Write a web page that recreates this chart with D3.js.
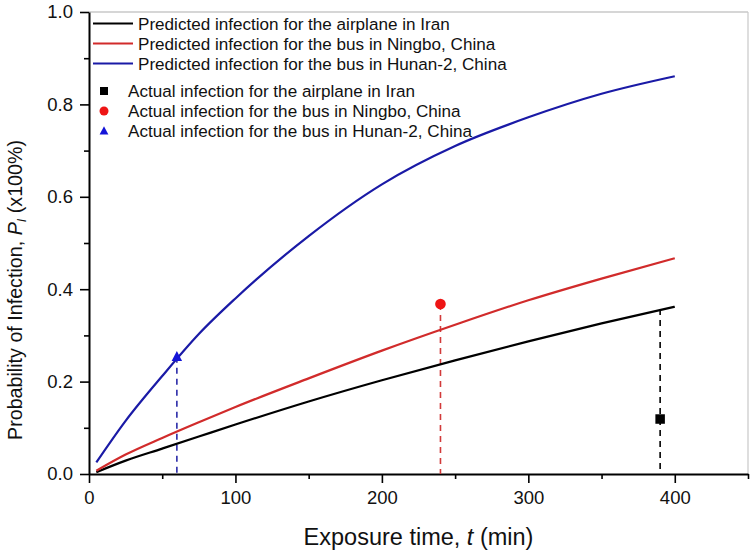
<!DOCTYPE html>
<html>
<head>
<meta charset="utf-8">
<script src="https://cdn.jsdelivr.net/npm/d3@7"></script>
<style>
  html, body { margin: 0; padding: 0; background: #fff; }
  svg { display: block; font-family: "Liberation Sans", Arial, sans-serif; }
</style>
</head>
<body>
<svg id="chart" width="750" height="554"></svg>
<script>
// ---- data ----
const exposureTime = [5, 25, 50, 75, 100, 150, 200, 250, 300, 350, 400];
const predAirplaneIran = [0.004, 0.029, 0.055, 0.081, 0.107, 0.157, 0.203, 0.246, 0.287, 0.326, 0.362];
const predBusNingbo   = [0.007, 0.042, 0.078, 0.112, 0.145, 0.207, 0.267, 0.323, 0.376, 0.423, 0.467];
const predBusHunan2   = [0.025, 0.115, 0.212, 0.303, 0.380, 0.515, 0.627, 0.710, 0.772, 0.823, 0.861];
const actualTime = [390, 240, 60];
const actualProb = [0.119, 0.368, 0.254];
const dropTop = [0.357, 0.368, 0.254];
const xMajorTicks = [0, 100, 200, 300, 400];
const xMinorTicks = [50, 150, 250, 350, 450];
const yMajorTicks = [0.0, 0.2, 0.4, 0.6, 0.8, 1.0];
const yMinorTicks = [0.1, 0.3, 0.5, 0.7, 0.9];
const predNames = ["Predicted infection for the airplane in Iran",
                   "Predicted infection for the bus in Ningbo, China",
                   "Predicted infection for the bus in Hunan-2, China"];
const actualLabels = ["Actual infection for the airplane in Iran",
                      "Actual infection for the bus in Ningbo, China",
                      "Actual infection for the bus in Hunan-2, China"];

// ---- styles ----
const lineColors = ["#000000", "#d12b2b", "#1a1aa6"];
const markColors = ["#000000", "#ee1515", "#1414d8"];
const dashColors = ["#000000", "#d23a3a", "#2a2aa8"];

const svg = d3.select("#chart");
const L = 89, R = 748, T = 12, B = 474;
const x = d3.scaleLinear().domain([0, 450]).range([L, R]);
const y = d3.scaleLinear().domain([0, 1]).range([B, T]);

// frame (top & right)
svg.append("line").attr("x1", L).attr("x2", R).attr("y1", T).attr("y2", T)
  .attr("stroke", "#c8c8c8").attr("stroke-width", 1.5);
svg.append("line").attr("x1", R).attr("x2", R).attr("y1", T).attr("y2", B)
  .attr("stroke", "#c8c8c8").attr("stroke-width", 1.2);

// axes
function styleAxis(g) {
  g.select(".domain").attr("stroke", "#000").attr("stroke-width", 2);
  g.selectAll(".tick line").attr("stroke", "#000").attr("stroke-width", 1.6);
  g.selectAll(".tick text").attr("font-size", "18.5px").attr("fill", "#111")
   .attr("font-family", "Liberation Sans, Arial, sans-serif");
}
const gxMinor = svg.append("g").attr("transform", `translate(0,${B})`)
  .call(d3.axisBottom(x).tickValues(xMinorTicks).tickSize(5).tickFormat(""));
gxMinor.select(".domain").remove();
gxMinor.selectAll(".tick line").attr("stroke", "#000").attr("stroke-width", 1.6);
const gx = svg.append("g").attr("transform", `translate(0,${B})`)
  .call(d3.axisBottom(x).tickValues(xMajorTicks).tickSize(9).tickSizeOuter(0).tickPadding(8).tickFormat(d3.format("d")));
styleAxis(gx);

const gyMinor = svg.append("g").attr("transform", `translate(${L},0)`)
  .call(d3.axisLeft(y).tickValues(yMinorTicks).tickSize(5).tickFormat(""));
gyMinor.select(".domain").remove();
gyMinor.selectAll(".tick line").attr("stroke", "#000").attr("stroke-width", 1.6);
const gy = svg.append("g").attr("transform", `translate(${L},0)`)
  .call(d3.axisLeft(y).tickValues(yMajorTicks).tickSize(9).tickSizeOuter(0).tickPadding(7).tickFormat(d3.format(".1f")));
styleAxis(gy);

// axis titles
svg.append("text").attr("x", (L + R) / 2).attr("y", 545).attr("text-anchor", "middle")
  .attr("font-size", "23.5px").attr("fill", "#111")
  .call(t => {
    t.append("tspan").text("Exposure time, ");
    t.append("tspan").attr("font-style", "italic").text("t");
    t.append("tspan").text(" (min)");
  });
svg.append("text").attr("transform", "translate(22,440) rotate(-90)").attr("text-anchor", "start")
  .attr("font-size", "19.7px").attr("fill", "#111")
  .call(t => {
    t.append("tspan").text("Probability of Infection, ");
    t.append("tspan").attr("font-style", "italic").text("P");
    t.append("tspan").attr("font-style", "italic").attr("font-size", "12.5px").attr("dy", 4).text("I");
    t.append("tspan").attr("dy", -4).text(" (x100%)");
  });

// dashed drop lines
actualTime.forEach((t, i) => {
  svg.append("line").attr("x1", x(t)).attr("x2", x(t)).attr("y1", y(dropTop[i])).attr("y2", y(0))
    .attr("stroke", dashColors[i]).attr("stroke-width", 1.6).attr("stroke-dasharray", "6,5");
});

// predicted lines
const series = [predAirplaneIran, predBusNingbo, predBusHunan2];
const line = d3.line().x((d, i) => x(exposureTime[i])).y(d => y(d)).curve(d3.curveMonotoneX);
series.forEach((s, i) => {
  svg.append("path").datum(s).attr("d", line).attr("fill", "none")
    .attr("stroke", lineColors[i]).attr("stroke-width", 2.2).attr("stroke-linejoin", "round");
});

// actual markers
function marker(g, i, cx, cy, size) {
  if (i === 0) {
    g.append("rect").attr("x", cx - size / 2).attr("y", cy - size / 2).attr("width", size).attr("height", size)
      .attr("fill", markColors[0]);
  } else if (i === 1) {
    g.append("circle").attr("cx", cx).attr("cy", cy).attr("r", size * 0.56).attr("fill", markColors[1]);
  } else {
    const h = size * 1.0, w = size * 1.1;
    g.append("path").attr("d", `M${cx},${cy - h * 0.6}L${cx + w / 2},${cy + h * 0.45}L${cx - w / 2},${cy + h * 0.45}Z`)
      .attr("fill", markColors[2]);
  }
}
actualTime.forEach((t, i) => marker(svg, i, x(t), y(actualProb[i]), 9.5));

// legend
const predRowY = [23.5, 43.5, 63.5];
const actRowY = [91, 111, 131];
predNames.forEach((n, i) => {
  svg.append("line").attr("x1", 93).attr("x2", 133).attr("y1", predRowY[i]).attr("y2", predRowY[i])
    .attr("stroke", lineColors[i]).attr("stroke-width", 2.2);
  svg.append("text").attr("x", 138).attr("y", predRowY[i] + 6)
    .attr("font-size", "17.1px").attr("fill", "#111").text(n);
});
actualLabels.forEach((n, i) => {
  marker(svg, i, 104, actRowY[i], 8);
  svg.append("text").attr("x", 128).attr("y", actRowY[i] + 6)
    .attr("font-size", "17.1px").attr("fill", "#111").text(n);
});
</script>
</body>
</html>
